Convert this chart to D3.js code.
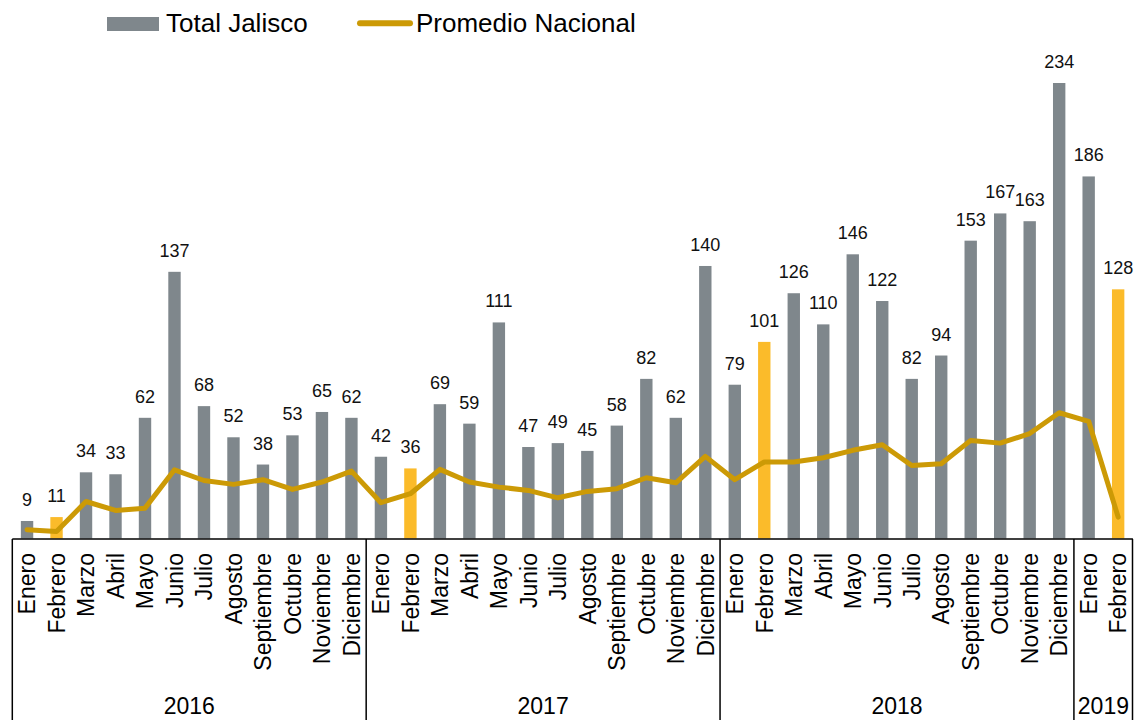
<!DOCTYPE html>
<html>
  <head>
    <meta charset="utf-8">
    <style>
    body {
      font-family: "Liberation Sans", Arial, sans-serif;
      margin: 0;
      background: #fff;
    }
    </style>
  </head>
  <body>
    <script src="https://d3js.org/d3.v7.min.js"></script>
    <script>

// datos
var years = ["2016", "2017", "2018", "2019"];
var monthsPerYear = [12, 12, 12, 2];
var monthNames = ["Enero", "Febrero", "Marzo", "Abril", "Mayo", "Junio", "Julio",
                  "Agosto", "Septiembre", "Octubre", "Noviembre", "Diciembre"];

var totalJalisco = [
  9, 11, 34, 33, 62, 137, 68, 52, 38, 53, 65, 62,
  42, 36, 69, 59, 111, 47, 49, 45, 58, 82, 62, 140,
  79, 101, 126, 110, 146, 122, 82, 94, 153, 167, 163, 234,
  186, 128
];

var promedioNacional = [
  4.5, 3.6, 19, 14.4, 15.6, 35.3, 29.8, 27.8, 30.2, 25.2, 29, 34.6,
  18.4, 23, 35.5, 29, 26.4, 24.7, 20.9, 24.2, 25.6, 31.2, 28.6, 42.2,
  30.2, 39.3, 39.3, 41.5, 45.3, 48.2, 37.5, 38.4, 50.4, 49, 53.9, 64.6,
  60.2, 11
];

var seriesNames = ["Total Jalisco", "Promedio Nacional"];

// construir las filas
var data = [];
years.forEach(function(y, yi){
  for (var m = 0; m < monthsPerYear[yi]; m++) {
    var i = data.length;
    data.push({
      key: y + "-" + m,
      year: y,
      month: monthNames[m],
      total: totalJalisco[i],
      prom: promedioNacional[i]
    });
  }
});

var width = 1137, height = 720;
var gray = "#7f878c", yellow = "#fbbb2a", gold = "#cc9a06";

var svg = d3.select("body").append("svg")
    .attr("width", width)
    .attr("height", height);

var x = d3.scaleBand()
    .domain(data.map(function(d){ return d.key; }))
    .range([12.3, 1132.9])
    .paddingInner(0.58)
    .paddingOuter(0.29);

var y = d3.scaleLinear()
    .domain([0, 234])
    .range([538.5, 83]);

function cx(d){ return x(d.key) + x.bandwidth() / 2; }

// barras
svg.selectAll(".bar")
    .data(data)
  .enter().append("rect")
    .attr("class", "bar")
    .attr("x", function(d){ return x(d.key); })
    .attr("y", function(d){ return y(d.total); })
    .attr("width", x.bandwidth())
    .attr("height", function(d){ return y(0) - y(d.total); })
    .style("fill", function(d){ return d.month === "Febrero" ? yellow : gray; });

// etiquetas de valor
svg.selectAll(".val")
    .data(data)
  .enter().append("text")
    .attr("class", "val")
    .attr("x", cx)
    .attr("y", function(d){ return y(d.total) - 15; })
    .attr("text-anchor", "middle")
    .style("font-size", "18px")
    .style("fill", "#111")
    .text(function(d){ return d.total; });

// linea promedio nacional
var line = d3.line()
    .x(cx)
    .y(function(d){ return y(d.prom); });

svg.append("path")
    .datum(data)
    .attr("d", line)
    .style("fill", "none")
    .style("stroke", gold)
    .style("stroke-width", 5)
    .style("stroke-linejoin", "round")
    .style("stroke-linecap", "round");

// eje: caja inferior
var x0 = x.range()[0], step = x.step();
var axisY = 539;
var axis = svg.append("g").style("stroke", "#000").style("stroke-width", 1.5);

axis.append("line")
    .attr("x1", x0).attr("x2", x.range()[1])
    .attr("y1", axisY).attr("y2", axisY);

var bounds = [0];
monthsPerYear.forEach(function(n){ bounds.push(bounds[bounds.length - 1] + n); });

axis.selectAll(".sep")
    .data(bounds)
  .enter().append("line")
    .attr("class", "sep")
    .attr("x1", function(b){ return Math.min(x0 + b * step, width - 4.5); })
    .attr("x2", function(b){ return Math.min(x0 + b * step, width - 4.5); })
    .attr("y1", axisY)
    .attr("y2", height);

// meses
svg.selectAll(".month")
    .data(data)
  .enter().append("text")
    .attr("class", "month")
    .attr("transform", function(d){ return "translate(" + cx(d) + ",553) rotate(-90)"; })
    .attr("dy", "0.36em")
    .attr("text-anchor", "end")
    .style("font-size", "23px")
    .style("fill", "#000")
    .text(function(d){ return d.month; });

// años
svg.selectAll(".year")
    .data(years)
  .enter().append("text")
    .attr("class", "year")
    .attr("x", function(d, i){ return x0 + (bounds[i] + bounds[i + 1]) / 2 * step; })
    .attr("y", 714)
    .attr("text-anchor", "middle")
    .style("font-size", "23px")
    .style("fill", "#000")
    .text(function(d){ return d; });

// leyenda
var legend = svg.append("g");

legend.append("rect")
    .attr("x", 107).attr("y", 17)
    .attr("width", 52).attr("height", 14)
    .style("fill", gray);

legend.append("text")
    .attr("x", 166).attr("y", 31.5)
    .style("font-size", "26px")
    .text(seriesNames[0]);

legend.append("line")
    .attr("x1", 360).attr("x2", 410)
    .attr("y1", 23.3).attr("y2", 23.3)
    .style("stroke", gold)
    .style("stroke-width", 6)
    .style("stroke-linecap", "round");

legend.append("text")
    .attr("x", 416).attr("y", 31.5)
    .style("font-size", "26px")
    .text(seriesNames[1]);

    </script>
  </body>
</html>
